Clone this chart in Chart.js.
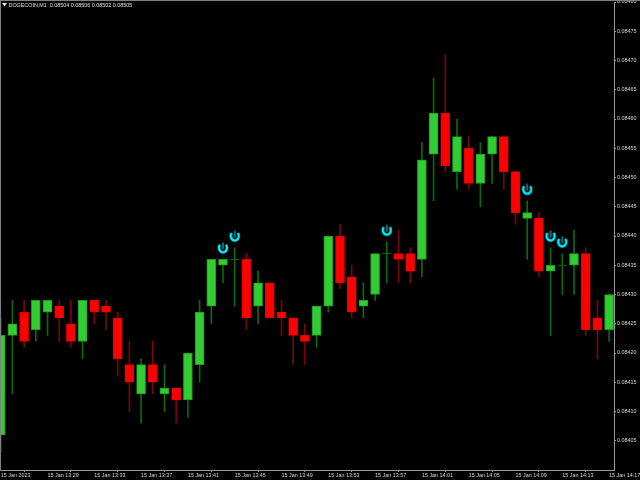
<!DOCTYPE html>
<html>
<head>
<meta charset="utf-8">
<style>
html,body{margin:0;padding:0;background:#000;overflow:hidden}
#wrap{position:relative;width:640px;height:480px}
canvas{display:block}
</style>
<script src="https://cdn.jsdelivr.net/npm/chart.js@4"></script>
</head>
<body>
<div id="wrap"><canvas id="c" width="640" height="480"></canvas></div>
<script>
const headerText = "DOGECOIN,M1  0.08504 0.08506 0.08502 0.08505";
const opens  = [8406,8423,8427,8424,8427,8428,8425,8422,8429,8428,8426,8418,8413,8418,8413,8414,8412,8418,8428,8435,8436,8436,8428,8432,8427,8426,8423,8423,8428,8440,8433,8428,8430,8437,8437,8437,8436,8454,8461,8451,8455,8449,8454,8457,8451,8443,8443,8434,8435,8435,8437,8426,8424];
const highs  = [8426,8429,8429,8429,8429,8429,8429,8429,8429,8429,8427,8422,8419,8422,8418,8414,8420,8429,8436,8436,8438,8437,8434,8432,8429,8426,8425,8428,8440,8442,8435,8432,8437,8439,8441,8438,8456,8467,8471,8460,8457,8456,8457,8457,8451,8446,8444,8438,8437,8441,8438,8429,8430];
const lows   = [8403,8413,8421,8422,8423,8422,8421,8419,8425,8424,8416,8410,8408,8413,8410,8408,8409,8415,8425,8432,8428,8424,8425,8426,8423,8418,8418,8421,8427,8431,8426,8426,8429,8432,8432,8432,8433,8446,8451,8448,8448,8445,8449,8448,8442,8436,8433,8423,8430,8430,8423,8419,8422];
const closes = [8423,8425,8422,8429,8429,8426,8422,8429,8427,8427,8419,8415,8418,8415,8414,8412,8420,8427,8436,8436,8436,8426,8432,8426,8426,8423,8422,8428,8440,8432,8427,8429,8437,8437,8436,8434,8453,8461,8452,8457,8449,8454,8457,8451,8444,8444,8434,8435,8435,8437,8424,8424,8430];
const signalBars   = [19,20,33,45,47,48];
const signalPrices = [8438,8440,8441,8448,8440,8439];
const priceTicks = [8405,8410,8415,8420,8425,8430,8435,8440,8445,8450,8455,8460,8465,8470,8475,8480];
const timeTickBars = [0,4,8,12,16,20,24,28,32,36,40,44,48,52];
const timeLabels = ["15 Jan 2023","15 Jan 13:29","15 Jan 13:33","15 Jan 13:37","15 Jan 13:41","15 Jan 13:45","15 Jan 13:49","15 Jan 13:53","15 Jan 13:57","15 Jan 14:01","15 Jan 14:05","15 Jan 14:09","15 Jan 14:13","15 Jan 14:17"];

const bull = i => closes[i] >= opens[i];
const bars = opens.map((_, i) => i);

function makeMarker(){
  const m = document.createElement('canvas');
  m.width = 12; m.height = 14;
  const g = m.getContext('2d');
  g.strokeStyle = '#00f0ff';
  g.lineWidth = 2.5;
  g.beginPath();
  g.ellipse(6, 7, 3.9, 4.6, 0, -Math.PI*0.22, Math.PI*1.22);
  g.stroke();
  g.strokeStyle = '#18b4c8';
  g.lineWidth = 1.2;
  g.beginPath();
  g.moveTo(6, 1.5); g.lineTo(6, 8.5);
  g.stroke();
  return m;
}

const frame = {
  id: 'frame',
  beforeDraw(chart){
    const c = chart.ctx;
    c.save();
    c.fillStyle = '#000';
    c.fillRect(0, 0, chart.width, chart.height);
    c.restore();
  },
  afterDraw(chart){
    const c = chart.ctx;
    c.save();
    c.fillStyle = '#7f7f7f';
    c.fillRect(0, 0, 640, 1);
    c.fillRect(0, 0, 1, 470);
    c.fillStyle = '#e8e8e8';
    c.beginPath();
    c.moveTo(2, 3); c.lineTo(7, 3); c.lineTo(4.5, 6.5); c.closePath(); c.fill();
    c.font = '5.4px "Liberation Sans"';
    c.textBaseline = 'middle';
    c.fillStyle = '#e0e0e0';
    c.fillText(headerText, 8.5, 5.5);
    c.restore();
  }
};

const fit = size => function(s){
  if (s.isHorizontal()) { s.height = size; s.paddingLeft = 0; s.paddingRight = 0; }
  else { s.width = size; s.paddingTop = 0; s.paddingBottom = 0; }
};

new Chart(document.getElementById('c'), {
  type: 'bar',
  plugins: [frame],
  data: { datasets: [
    {
      label: 'Wicks',
      data: bars.map(i => ({x: i, y: [lows[i], highs[i]]})),
      backgroundColor: bars.map(i => bull(i) ? '#0a6a0a' : '#7a0505'),
      barThickness: 1, grouped: false, order: 4
    },
    {
      label: 'Bodies',
      data: bars.filter(i => opens[i] !== closes[i]).map(i => ({x: i, y: [opens[i], closes[i]]})),
      backgroundColor: ctx => bull(ctx.raw.x) ? '#32cd32' : '#ff0000',
      borderColor: ctx => bull(ctx.raw.x) ? '#229a22' : '#e00000',
      borderWidth: 1, borderSkipped: false,
      barThickness: 9, grouped: false, order: 3
    },
    {
      type: 'scatter', label: 'Doji',
      data: bars.filter(i => opens[i] === closes[i]).map(i => ({x: i, y: opens[i]})),
      pointStyle: 'line', radius: 4.5, borderColor: '#0a6a0a', borderWidth: 1, order: 2
    },
    {
      type: 'scatter', label: 'Signals',
      data: signalBars.map((b, k) => ({x: b, y: signalPrices[k]})),
      pointStyle: makeMarker(), order: 1
    }
  ]},
  options: {
    responsive: false, animation: false,
    layout: { autoPadding: false, padding: { top: 2, left: 0, right: 0, bottom: 0 } },
    plugins: { legend: { display: false }, tooltip: { enabled: false } },
    scales: {
      x: {
        type: 'linear', position: 'bottom', min: -0.06, max: 52.42, offset: false,
        afterFit: fit(10),
        afterBuildTicks: s => { s.ticks = timeTickBars.map(v => ({value: v})); },
        grid: { display: true, drawOnChartArea: false, drawTicks: true, tickLength: 2, tickColor: '#9a9a9a' },
        border: { display: true, color: '#9a9a9a', width: 1 },
        ticks: {
          autoSkip: false, maxRotation: 0, minRotation: 0, align: 'start', padding: 0,
          color: '#d8d8d8', font: { family: '"Liberation Sans"', size: 5.4 },
          callback: v => timeLabels[timeTickBars.indexOf(v)]
        }
      },
      y: {
        type: 'linear', position: 'right', min: 8400, max: 8480,
        afterFit: fit(26),
        afterBuildTicks: s => { s.ticks = priceTicks.map(v => ({value: v})); },
        grid: { display: true, drawOnChartArea: false, drawTicks: true, tickLength: 2, tickColor: '#9a9a9a' },
        border: { display: true, color: '#9a9a9a', width: 1 },
        ticks: {
          autoSkip: false, padding: 1,
          color: '#d8d8d8', font: { family: '"Liberation Sans"', size: 5.4 },
          callback: v => '0.0' + v
        }
      }
    }
  }
});
</script>
</body>
</html>
